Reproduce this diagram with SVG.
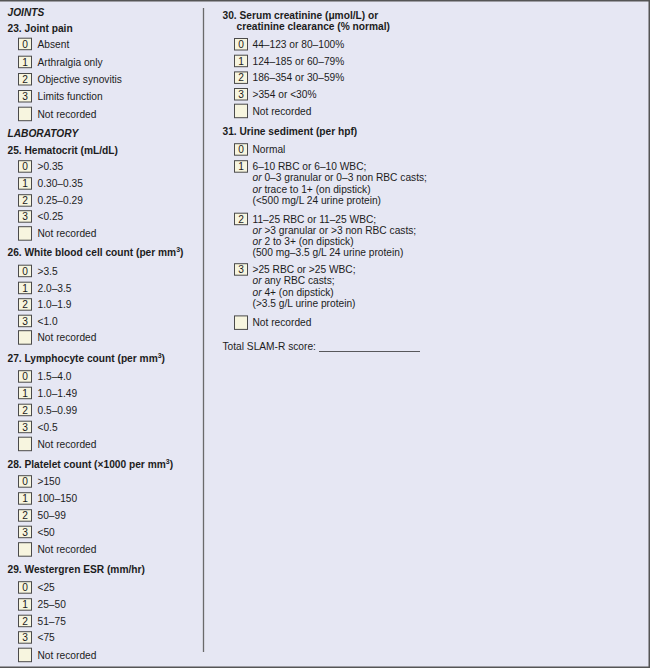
<svg xmlns="http://www.w3.org/2000/svg" width="650" height="668" viewBox="0 0 650 668">
<style>
.t{font-family:"Liberation Sans",Arial,Helvetica,sans-serif;font-size:10.2px;fill:#1c1c1c}
.h{font-weight:bold}
.s{font-weight:bold;font-style:italic}
.i{font-style:italic}
.n{text-anchor:middle}
.nb{fill:#f7f5df;stroke:#4a4a4a;stroke-width:1}
.sup{font-size:7px}
</style>
<rect x="0" y="0" width="650" height="668" fill="#e6e7f3"/>
<g id="frame" stroke="#555" fill="none">
<line x1="0" y1="0.75" x2="650" y2="0.75" stroke-width="1.5"/>
<line x1="649.25" y1="0" x2="649.25" y2="668" stroke-width="1.5"/>
<line x1="0" y1="667.25" x2="650" y2="667.25" stroke-width="1.5"/>
<line x1="203.5" y1="8" x2="203.5" y2="652" stroke="#6a6a6a" stroke-width="1.3"/>
</g>
<g id="connectors"/>

<g id="joints" class="t">
<text x="7.5" y="16" class="s">JOINTS</text>
</g>
<g id="q23" class="t">
<text x="7.5" y="31.5" class="h">23. Joint pain</text>
<rect x="18.5" y="38.2" width="13" height="11.5" class="nb"/><text x="25" y="47.6" class="n">0</text><text x="37.5" y="47.6">Absent</text>
<rect x="18.5" y="56.2" width="13" height="11.5" class="nb"/><text x="25" y="65.6" class="n">1</text><text x="37.5" y="65.6">Arthralgia only</text>
<rect x="18.5" y="73.5" width="13" height="11.5" class="nb"/><text x="25" y="82.9" class="n">2</text><text x="37.5" y="82.9">Objective synovitis</text>
<rect x="18.5" y="90.5" width="13" height="11.5" class="nb"/><text x="25" y="99.9" class="n">3</text><text x="37.5" y="99.9">Limits function</text>
<rect x="18.5" y="107.2" width="13" height="13.5" class="nb"/><text x="37.5" y="117.6">Not recorded</text>
</g>
<g id="laboratory" class="t">
<text x="7.5" y="136.6" class="s">LABORATORY</text>
</g>
<g id="q25" class="t">
<text x="7.5" y="153.6" class="h">25. Hematocrit (mL/dL)</text>
<rect x="18.5" y="160.7" width="13" height="11.5" class="nb"/><text x="25" y="170.1" class="n">0</text><text x="37.5" y="170.1">&gt;0.35</text>
<rect x="18.5" y="177.7" width="13" height="11.5" class="nb"/><text x="25" y="187.1" class="n">1</text><text x="37.5" y="187.1">0.30–0.35</text>
<rect x="18.5" y="194.7" width="13" height="11.5" class="nb"/><text x="25" y="204.1" class="n">2</text><text x="37.5" y="204.1">0.25–0.29</text>
<rect x="18.5" y="210.7" width="13" height="11.5" class="nb"/><text x="25" y="220.1" class="n">3</text><text x="37.5" y="220.1">&lt;0.25</text>
<rect x="18.5" y="226.7" width="13" height="13.5" class="nb"/><text x="37.5" y="237.1">Not recorded</text>
</g>
<g id="q26" class="t">
<text x="7.5" y="256.3" class="h">26. White blood cell count (per mm<tspan class="sup" dy="-4">3</tspan><tspan dy="4">)</tspan></text>
<rect x="18.5" y="265.2" width="13" height="11.5" class="nb"/><text x="25" y="274.6" class="n">0</text><text x="37.5" y="274.6">&gt;3.5</text>
<rect x="18.5" y="282.2" width="13" height="11.5" class="nb"/><text x="25" y="291.6" class="n">1</text><text x="37.5" y="291.6">2.0–3.5</text>
<rect x="18.5" y="298.7" width="13" height="11.5" class="nb"/><text x="25" y="308.1" class="n">2</text><text x="37.5" y="308.1">1.0–1.9</text>
<rect x="18.5" y="315.2" width="13" height="11.5" class="nb"/><text x="25" y="324.6" class="n">3</text><text x="37.5" y="324.6">&lt;1.0</text>
<rect x="18.5" y="330.7" width="13" height="13.5" class="nb"/><text x="37.5" y="341.1">Not recorded</text>
</g>
<g id="q27" class="t">
<text x="7.5" y="361.6" class="h">27. Lymphocyte count (per mm<tspan class="sup" dy="-4">3</tspan><tspan dy="4">)</tspan></text>
<rect x="18.5" y="370.7" width="13" height="11.5" class="nb"/><text x="25" y="380.1" class="n">0</text><text x="37.5" y="380.1">1.5–4.0</text>
<rect x="18.5" y="387.2" width="13" height="11.5" class="nb"/><text x="25" y="396.6" class="n">1</text><text x="37.5" y="396.6">1.0–1.49</text>
<rect x="18.5" y="404.2" width="13" height="11.5" class="nb"/><text x="25" y="413.6" class="n">2</text><text x="37.5" y="413.6">0.5–0.99</text>
<rect x="18.5" y="421.2" width="13" height="11.5" class="nb"/><text x="25" y="430.6" class="n">3</text><text x="37.5" y="430.6">&lt;0.5</text>
<rect x="18.5" y="437.2" width="13" height="13.5" class="nb"/><text x="37.5" y="447.6">Not recorded</text>
</g>
<g id="q28" class="t">
<text x="7.5" y="467.6" class="h">28. Platelet count (×1000 per mm<tspan class="sup" dy="-4">3</tspan><tspan dy="4">)</tspan></text>
<rect x="18.5" y="475.7" width="13" height="11.5" class="nb"/><text x="25" y="485.1" class="n">0</text><text x="37.5" y="485.1">&gt;150</text>
<rect x="18.5" y="492.7" width="13" height="11.5" class="nb"/><text x="25" y="502.1" class="n">1</text><text x="37.5" y="502.1">100–150</text>
<rect x="18.5" y="509.7" width="13" height="11.5" class="nb"/><text x="25" y="519.1" class="n">2</text><text x="37.5" y="519.1">50–99</text>
<rect x="18.5" y="526.2" width="13" height="11.5" class="nb"/><text x="25" y="535.6" class="n">3</text><text x="37.5" y="535.6">&lt;50</text>
<rect x="18.5" y="542.7" width="13" height="13.5" class="nb"/><text x="37.5" y="553.1">Not recorded</text>
</g>
<g id="q29" class="t">
<text x="7.5" y="573.1" class="h">29. Westergren ESR (mm/hr)</text>
<rect x="18.5" y="581.7" width="13" height="11.5" class="nb"/><text x="25" y="591.1" class="n">0</text><text x="37.5" y="591.1">&lt;25</text>
<rect x="18.5" y="598.7" width="13" height="11.5" class="nb"/><text x="25" y="608.1" class="n">1</text><text x="37.5" y="608.1">25–50</text>
<rect x="18.5" y="615.2" width="13" height="11.5" class="nb"/><text x="25" y="624.6" class="n">2</text><text x="37.5" y="624.6">51–75</text>
<rect x="18.5" y="631.7" width="13" height="11.5" class="nb"/><text x="25" y="641.1" class="n">3</text><text x="37.5" y="641.1">&lt;75</text>
<rect x="18.5" y="648.2" width="13" height="13.5" class="nb"/><text x="37.5" y="658.6">Not recorded</text>
</g>

<g id="q30" class="t">
<text x="222.5" y="18.6" class="h">30. Serum creatinine (μmol/L) or</text>
<text x="236.5" y="30.3" class="h">creatinine clearance (% normal)</text>
<rect x="234.5" y="38.5" width="13" height="11.5" class="nb"/><text x="241" y="47.9" class="n">0</text><text x="252.5" y="47.9">44–123 or 80–100%</text>
<rect x="234.5" y="55.2" width="13" height="11.5" class="nb"/><text x="241" y="64.6" class="n">1</text><text x="252.5" y="64.6">124–185 or 60–79%</text>
<rect x="234.5" y="71.9" width="13" height="11.5" class="nb"/><text x="241" y="81.3" class="n">2</text><text x="252.5" y="81.3">186–354 or 30–59%</text>
<rect x="234.5" y="88.5" width="13" height="11.5" class="nb"/><text x="241" y="97.9" class="n">3</text><text x="252.5" y="97.9">&gt;354 or &lt;30%</text>
<rect x="234.5" y="104.2" width="13" height="13.5" class="nb"/><text x="252.5" y="114.6">Not recorded</text>
</g>
<g id="q31" class="t">
<text x="222.5" y="135.1" class="h">31. Urine sediment (per hpf)</text>
<rect x="234.5" y="143.7" width="13" height="11.5" class="nb"/><text x="241" y="153.1" class="n">0</text><text x="252.5" y="153.1">Normal</text>
<rect x="234.5" y="160.7" width="13" height="11.5" class="nb"/><text x="241" y="170.1" class="n">1</text>
<text x="252.5" y="170.1">6–10 RBC or 6–10 WBC;</text>
<text x="252.5" y="181.3"><tspan class="i">or</tspan> 0–3 granular or 0–3 non RBC casts;</text>
<text x="252.5" y="192.5"><tspan class="i">or</tspan> trace to 1+ (on dipstick)</text>
<text x="252.5" y="203.7">(&lt;500 mg/L 24 urine protein)</text>
<rect x="234.5" y="213.2" width="13" height="11.5" class="nb"/><text x="241" y="222.6" class="n">2</text>
<text x="252.5" y="222.6">11–25 RBC or 11–25 WBC;</text>
<text x="252.5" y="233.8"><tspan class="i">or</tspan> &gt;3 granular or &gt;3 non RBC casts;</text>
<text x="252.5" y="245"><tspan class="i">or</tspan> 2 to 3+ (on dipstick)</text>
<text x="252.5" y="256.2">(500 mg–3.5 g/L 24 urine protein)</text>
<rect x="234.5" y="263.7" width="13" height="11.5" class="nb"/><text x="241" y="273.1" class="n">3</text>
<text x="252.5" y="273.1">&gt;25 RBC or &gt;25 WBC;</text>
<text x="252.5" y="284.3"><tspan class="i">or</tspan> any RBC casts;</text>
<text x="252.5" y="295.5"><tspan class="i">or</tspan> 4+ (on dipstick)</text>
<text x="252.5" y="306.7">(&gt;3.5 g/L urine protein)</text>
<rect x="234.5" y="315.9" width="13" height="13.5" class="nb"/><text x="252.5" y="326.3">Not recorded</text>
</g>
<g id="total" class="t">
<text x="222.5" y="350">Total SLAM-R score:</text>
<line x1="319" y1="351.5" x2="420" y2="351.5" stroke="#333" stroke-width="0.8"/>
</g>
</svg>
